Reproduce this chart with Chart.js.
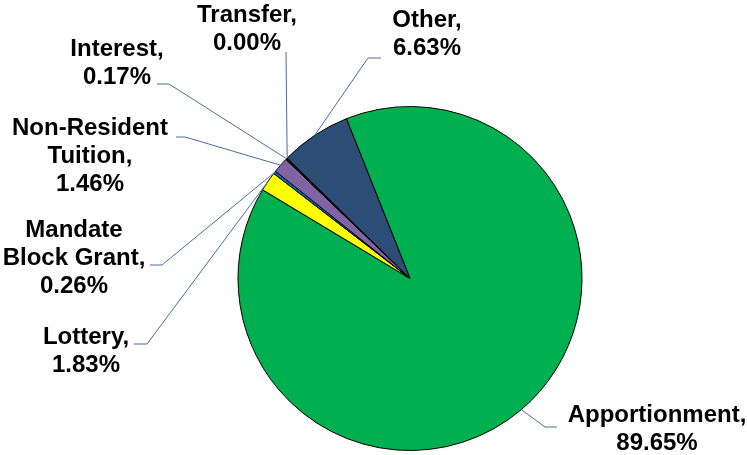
<!DOCTYPE html>
<html>
<head>
<meta charset="utf-8">
<script src="https://cdn.jsdelivr.net/npm/chart.js@4"></script>
<style>
  html, body { margin: 0; padding: 0; background: #fff; }
  #wrap { width: 747px; height: 455px; }
</style>
</head>
<body>
<div id="wrap"><canvas id="graficoIngresos" width="747" height="455"></canvas></div>
<script>
// data, clockwise from the top-right
const categorias = ["Apportionment", "Lottery", "Mandate Block Grant", "Non-Resident Tuition", "Interest", "Transfer", "Other"];
const porcentajes = [89.65, 1.83, 0.26, 1.46, 0.17, 0.00, 6.63];
const etiquetas = [
    ["Apportionment,", "89.65%"],
    ["Lottery,", "1.83%"],
    ["Mandate", "Block Grant,", "0.26%"],
    ["Non-Resident", "Tuition,", "1.46%"],
    ["Interest,", "0.17%"],
    ["Transfer,", "0.00%"],
    ["Other,", "6.63%"]
];

const colores = ["#00B050", "#FFFF00", "#0070C0", "#8064A2", "#111111", "#C0504D", "#2C4D75"];

// label layout: text centre x, first line y, leader elbow, leader end
const posEtiquetas = [
    { x: 657, y: 415, codo: [545, 427], fin: [557, 427] },
    { x: 86,  y: 337, codo: [147, 344], fin: [134, 344] },
    { x: 74,  y: 230, codo: [162, 265], fin: [150, 265] },
    { x: 90,  y: 128, codo: [185, 137], fin: [176, 137] },
    { x: 117, y: 49,  codo: [169, 84],  fin: [157, 84] },
    { x: 247, y: 15,  codo: [286, 52],  fin: [286, 52] },
    { x: 427, y: 20,  codo: [368, 58],  fin: [381, 58] }
];

const etiquetasGuia = {
    id: "etiquetasGuia",
    afterDraw(chart) {
        const ctx = chart.ctx;
        const arcos = chart.getDatasetMeta(0).data;
        ctx.save();
        arcos.forEach((arco, i) => {
            const p = posEtiquetas[i];
            const medio = (arco.startAngle + arco.endAngle) / 2;
            const ex = arco.x + Math.cos(medio) * arco.outerRadius;
            const ey = arco.y + Math.sin(medio) * arco.outerRadius;
            ctx.strokeStyle = "#4A6E9A";
            ctx.lineWidth = 1;
            ctx.beginPath();
            ctx.moveTo(ex, ey);
            ctx.lineTo(p.codo[0], p.codo[1]);
            ctx.lineTo(p.fin[0], p.fin[1]);
            ctx.stroke();

            ctx.fillStyle = "#000";
            ctx.font = "bold 24px 'Liberation Sans', Arial, sans-serif";
            ctx.textAlign = "center";
            ctx.textBaseline = "middle";
            etiquetas[i].forEach((linea, j) => {
                ctx.fillText(linea, p.x, p.y + j * 28);
            });
        });
        ctx.restore();
    }
};

new Chart(document.getElementById("graficoIngresos"), {
    type: "pie",
    data: {
        labels: categorias,
        datasets: [{
            data: porcentajes,
            backgroundColor: colores,
            borderColor: "#000",
            borderWidth: 1
        }]
    },
    options: {
        responsive: false,
        animation: false,
        rotation: -21.7,
        layout: { padding: { left: 237.5, right: 164.5, top: 106, bottom: 4 } },
        plugins: {
            legend: { display: false },
            tooltip: { enabled: false }
        }
    },
    plugins: [etiquetasGuia]
});
</script>
</body>
</html>
